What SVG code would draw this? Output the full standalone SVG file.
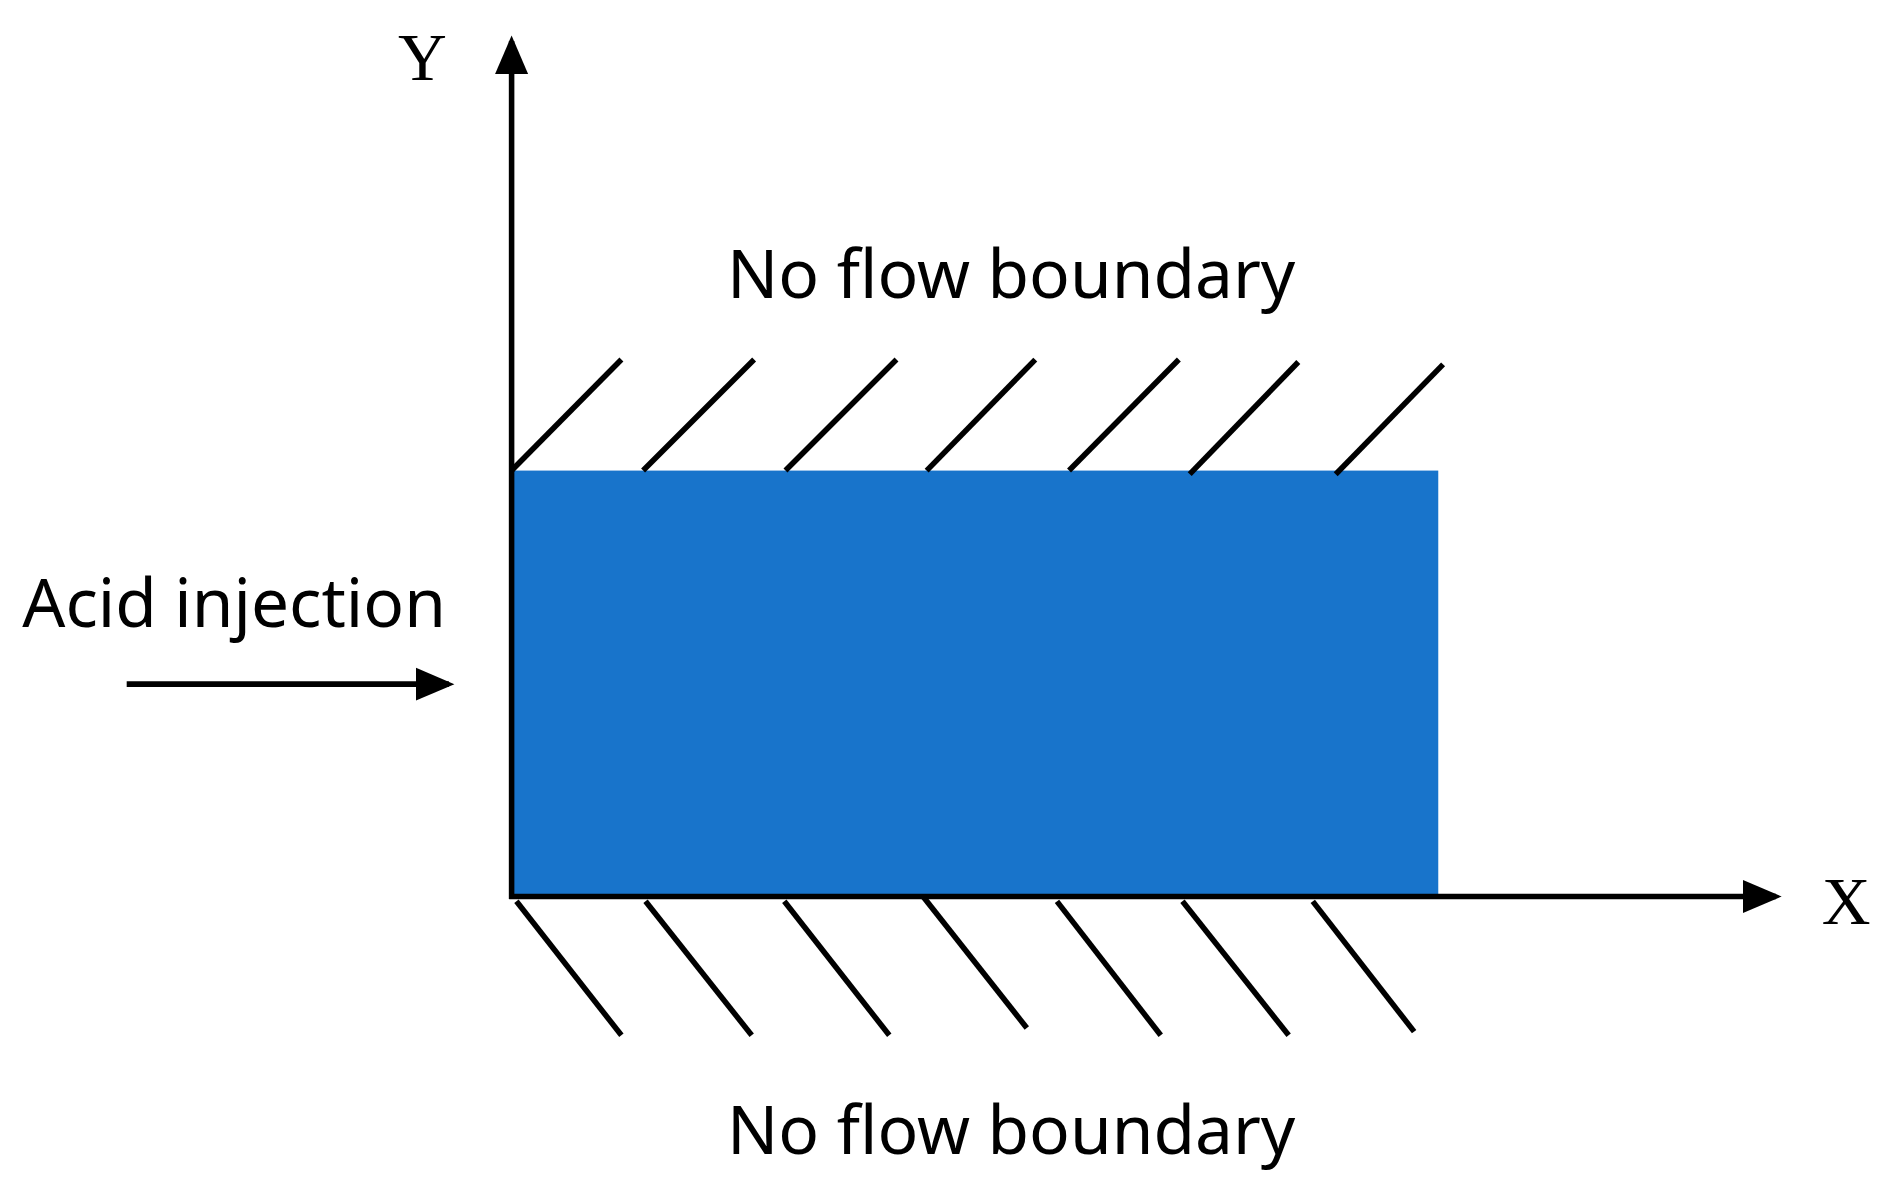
<svg xmlns="http://www.w3.org/2000/svg" width="1892" height="1196" viewBox="0 0 1892 1196">
<style>
.ln{stroke:#000;stroke-width:4.6;fill:none}
.lbl{font-family:"Noto Sans","Open Sans",sans-serif;font-size:56px;fill:#000}
.ax{font-family:"Liberation Serif",serif;font-size:56px;fill:#000}
</style>
<defs>
<marker id="ah" markerWidth="8" markerHeight="8" refX="6" refY="4" orient="auto" markerUnits="strokeWidth"><path d="M0,1 L7,4 L0,7 Z" fill="#000"/></marker>
</defs>
<rect width="1892" height="1196" fill="#fff"/>
<g transform="scale(1.2066)">
<g id="domain"><rect x="424" y="390" width="768" height="355" fill="#1874CB"/></g>
<g id="connectors">
<line class="ln" x1="424" y1="745" x2="424" y2="34" marker-end="url(#ah)"/>
<line class="ln" x1="422" y1="743" x2="1472" y2="743" marker-end="url(#ah)"/>
<line class="ln" x1="105" y1="567" x2="372" y2="567" marker-end="url(#ah)"/>
</g>
<g id="hatch-top">
<line class="ln" x1="424" y1="390" x2="515" y2="298"/>
<line class="ln" x1="533" y1="390" x2="625" y2="298"/>
<line class="ln" x1="651" y1="390" x2="743" y2="298"/>
<line class="ln" x1="768" y1="390" x2="858" y2="298"/>
<line class="ln" x1="886" y1="390" x2="977" y2="298"/>
<line class="ln" x1="986" y1="393" x2="1076" y2="300"/>
<line class="ln" x1="1107" y1="393" x2="1196" y2="302"/>
</g>
<g id="hatch-bottom">
<line class="ln" x1="428" y1="747" x2="515" y2="858"/>
<line class="ln" x1="535" y1="747" x2="623" y2="858"/>
<line class="ln" x1="650" y1="747" x2="737" y2="858"/>
<line class="ln" x1="765" y1="743" x2="851" y2="852"/>
<line class="ln" x1="876" y1="747" x2="962" y2="858"/>
<line class="ln" x1="980" y1="747" x2="1068" y2="858"/>
<line class="ln" x1="1088" y1="747" x2="1172" y2="855"/>
</g>
<g id="labels">
<text class="ax" x="350" y="66" text-anchor="middle">Y</text>
<text class="ax" x="1530" y="766" text-anchor="middle">X</text>
<text class="lbl" x="838" y="247" text-anchor="middle">No flow boundary</text>
<text class="lbl" x="838" y="956" text-anchor="middle">No flow boundary</text>
<text class="lbl" x="194" y="520" text-anchor="middle">Acid injection</text>
</g>
</g>
</svg>
